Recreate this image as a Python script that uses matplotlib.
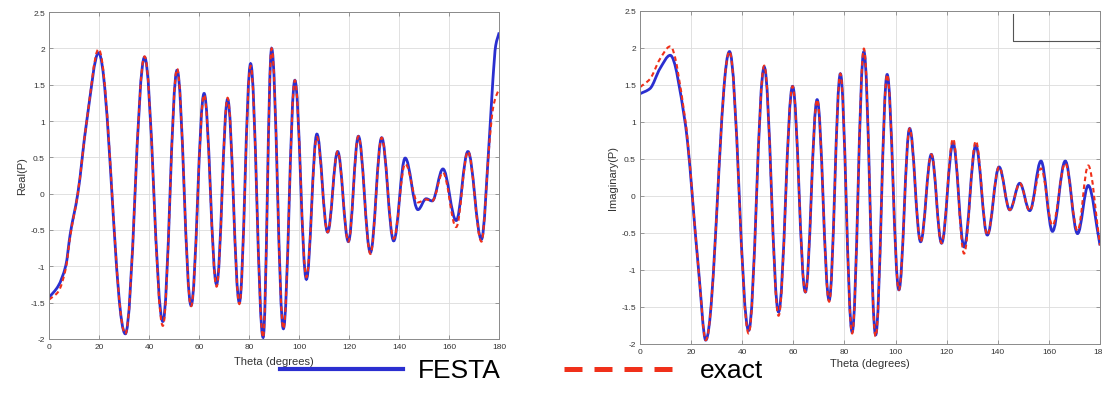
import matplotlib
matplotlib.use("Agg")
import numpy as np
import matplotlib.pyplot as plt
from matplotlib.path import Path
from matplotlib.patches import PathPatch
from matplotlib.lines import Line2D
from matplotlib.ticker import FuncFormatter

plt.rcParams['font.family'] = ['Liberation Sans', 'DejaVu Sans']
plt.rcParams['axes.unicode_minus'] = False

# Real(P): theta of extrema / turning points, FESTA and exact values
real_theta = [0, 3.7, 6.7, 8.5, 11.5, 15.0, 19.8, 30.5, 38.2, 45.5, 51.2, 56.8,
              62.0, 67.0, 71.4, 76.1, 80.6, 85.6, 89.0, 93.7, 98.3, 102.9,
              107.1, 111.4, 115.4, 119.7, 123.7, 128.5, 133.0, 137.8, 142.4,
              147.5, 150.8, 153.2, 157.5, 162.8, 167.5, 172.9, 176.2, 177.5,
              178.6, 180]
real_festa = [-1.43, -1.27, -0.99, -0.55, 0.0, 0.98, 1.94, -1.93, 1.88, -1.76,
              1.70, -1.54, 1.38, -1.25, 1.30, -1.50, 1.79, -1.98, 2.0, -1.86,
              1.56, -1.18, 0.82, -0.53, 0.58, -0.66, 0.79, -0.81, 0.77, -0.65,
              0.49, -0.22, -0.07, -0.10, 0.34, -0.37, 0.58, -0.63, 0.84, 1.58,
              2.04, 2.22]
real_exact = [-1.46, -1.35, -1.03, -0.58, 0.0, 0.98, 1.99, -1.93, 1.89, -1.82,
              1.72, -1.55, 1.36, -1.28, 1.32, -1.52, 1.76, -1.98, 2.0, -1.86,
              1.56, -1.15, 0.78, -0.53, 0.58, -0.66, 0.79, -0.83, 0.77, -0.62,
              0.41, -0.12, -0.08, -0.10, 0.29, -0.46, 0.58, -0.66, 0.75, 1.17,
              1.33, 1.44]

# Imaginary(P)
imag_theta = [0, 3.9, 7.8, 11.8, 17.6, 22.9, 25.7, 35.0, 42.5, 48.6, 54.2,
              59.7, 64.7, 69.3, 74.0, 78.4, 83.0, 87.6, 92.2, 96.7, 101.3,
              105.5, 109.8, 114.0, 118.0, 122.5, 126.8, 131.4, 135.9, 140.5,
              144.7, 148.6, 152.5, 156.9, 161.4, 166.4, 171.2, 175.4, 180]
imag_festa = [1.38, 1.45, 1.72, 1.90, 1.0, -1.0, -1.95, 1.95, -1.82, 1.74,
              -1.57, 1.48, -1.30, 1.30, -1.41, 1.65, -1.84, 1.95, -1.88, 1.64,
              -1.27, 0.91, -0.62, 0.56, -0.64, 0.71, -0.69, 0.68, -0.53, 0.39,
              -0.19, 0.17, -0.20, 0.47, -0.48, 0.47, -0.51, 0.14, -0.67]
imag_exact = [1.47, 1.58, 1.85, 2.02, 1.05, -1.0, -1.95, 1.95, -1.86, 1.76,
              -1.62, 1.48, -1.30, 1.30, -1.43, 1.65, -1.86, 1.99, -1.90, 1.64,
              -1.27, 0.91, -0.62, 0.56, -0.64, 0.77, -0.78, 0.74, -0.53, 0.39,
              -0.19, 0.17, -0.20, 0.37, -0.40, 0.44, -0.47, 0.41, -0.67]

x_ticks = [0, 20, 40, 60, 80, 100, 120, 140, 160, 180]
y_ticks = [-2, -1.5, -1, -0.5, 0, 0.5, 1, 1.5, 2, 2.5]

BLUE = '#2b2fd0'
RED = '#f0301a'


def smooth_path(x, y):
    # monotone cubic through the read points, drawn as bezier segments
    x = np.asarray(x, float)
    y = np.asarray(y, float)
    d = np.diff(y) / np.diff(x)
    m = np.zeros_like(x)
    m[0] = d[0]
    m[-1] = d[-1]
    for i in range(1, len(x) - 1):
        if d[i - 1] * d[i] > 0:
            m[i] = 2 / (1 / d[i - 1] + 1 / d[i])
    verts = [(x[0], y[0])]
    codes = [Path.MOVETO]
    for i in range(len(x) - 1):
        h = x[i + 1] - x[i]
        # rounder, sine-like arcs between two extrema
        k = 0.37 if m[i] == 0 and m[i + 1] == 0 else 1 / 3
        verts += [(x[i] + k * h, y[i] + m[i] * k * h),
                  (x[i + 1] - k * h, y[i + 1] - m[i + 1] * k * h),
                  (x[i + 1], y[i + 1])]
        codes += [Path.CURVE4] * 3
    return Path(verts, codes)


def setup(ax, ylabel, xlabelpad):
    ax.set_xlim(0, 180)
    ax.set_ylim(-2, 2.5)
    ax.set_xticks(x_ticks)
    ax.set_yticks(y_ticks)
    ax.yaxis.set_major_formatter(FuncFormatter(lambda v, p: '%g' % v))
    ax.grid(True, color='#dcdcdc', lw=0.6)
    ax.set_axisbelow(True)
    ax.tick_params(direction='in', top=True, right=True, length=3, width=0.5,
                   color='#777777', labelsize=6, labelcolor='#333333', pad=3)
    for s in ax.spines.values():
        s.set_color('#8a8a8a')
        s.set_linewidth(0.7)
    ax.set_ylabel(ylabel, fontsize=8, color='#333333', labelpad=2)
    ax.set_xlabel('Theta (degrees)', fontsize=8, color='#333333', labelpad=xlabelpad)


def draw(ax, theta, festa, exact):
    ax.add_patch(PathPatch(smooth_path(theta, festa), fill=False, ec=BLUE, lw=2.0))
    ax.add_patch(PathPatch(smooth_path(theta, exact), fill=False, ec=RED, lw=1.5,
                           ls=(0, (2.2, 1.6))))


fig = plt.figure(figsize=(11.02, 4.10), dpi=100)

ax1 = fig.add_axes([0.0445, 0.171, 0.4085, 0.797])
setup(ax1, 'Real(P)', 4)
draw(ax1, real_theta, real_festa, real_exact)

ax2 = fig.add_axes([0.5808, 0.159, 0.4174, 0.812])
setup(ax2, 'Imaginary(P)', 2)
draw(ax2, imag_theta, imag_festa, imag_exact)

# leftover legend box corner at top right
ax2.plot([0.811, 0.811, 1.0], [0.992, 0.91, 0.91], transform=ax2.transAxes,
         color='#555555', lw=0.8, clip_on=False)

# shared legend under the plots
fig.add_artist(Line2D([0.254, 0.366], [0.098, 0.098], color=BLUE, lw=3.0))
fig.text(0.379, 0.096, 'FESTA', fontsize=19, va='center', ha='left')
fig.add_artist(Line2D([0.512, 0.613], [0.098, 0.098], color=RED, lw=3.6,
                      ls=(0, (3.6, 2.4))))
fig.text(0.635, 0.096, 'exact', fontsize=19, va='center', ha='left')

fig.savefig('out.png', dpi=100)
